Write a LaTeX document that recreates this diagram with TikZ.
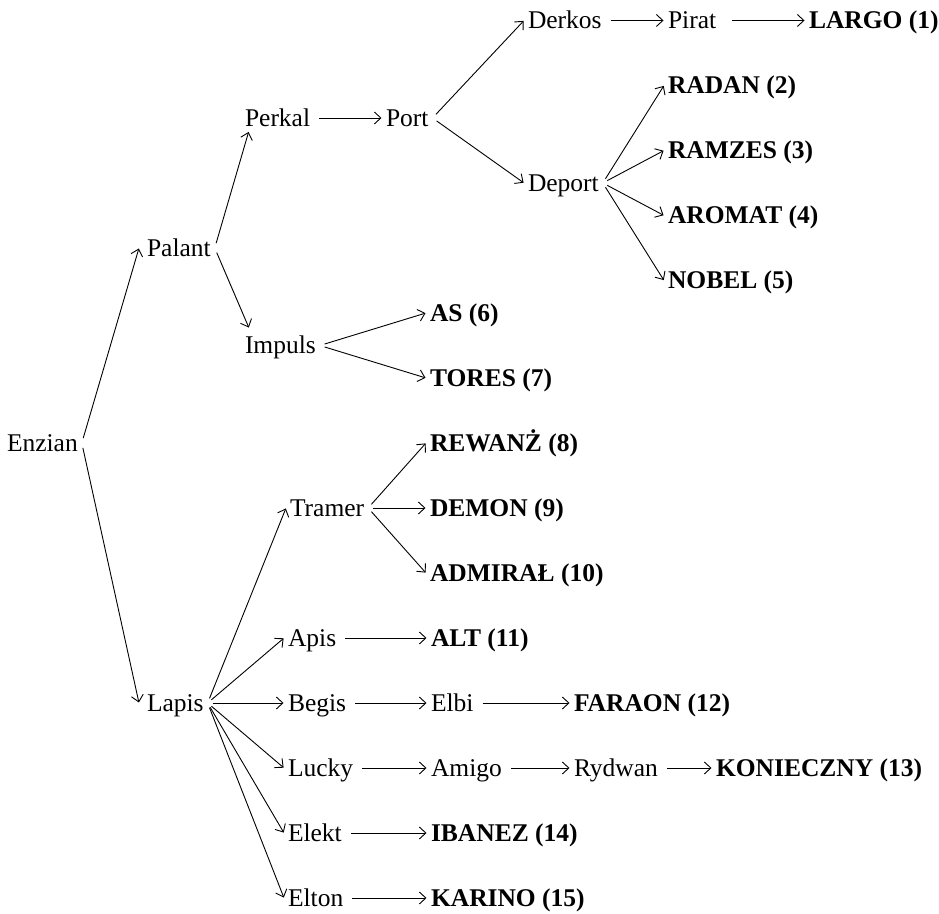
\documentclass[tikz,border=0pt]{standalone}
\usepackage{fontspec}
\setmainfont{Liberation Serif}
\usetikzlibrary{arrows.meta}
\tikzset{
  lbl/.style={anchor=west, inner xsep=4pt, inner ysep=0pt, outer sep=0pt,
    text height=17pt, text depth=0pt, font=\fontsize{25.5pt}{30pt}\selectfont},
  leaf/.style={lbl, font=\fontsize{25.5pt}{30pt}\selectfont\bfseries},
  ar/.style={-{Straight Barb[length=6.5pt,width=12pt,line width=0.9pt]}, line width=0.9pt, shorten <=5pt, shorten >=0.5pt}
}
\begin{document}
\begin{tikzpicture}[x=1pt,y=1pt]
\useasboundingbox (0,0) rectangle (939,913);
% column 0-1
\node[lbl] (enzian) at (3,470) {Enzian};
\node[lbl] (palant) at (143,665) {Palant};
\node[lbl] (lapis) at (143,210) {Lapis};
% column 2
\node[lbl] (perkal) at (241,795) {Perkal};
\node[lbl] (impuls) at (241,567.5) {Impuls};
\node[lbl] (port) at (382,795) {Port};
\node[lbl] (tramer) at (286,405) {Tramer};
\node[lbl] (apis) at (284,275) {Apis};
\node[lbl] (begis) at (284,210) {Begis};
\node[lbl] (lucky) at (284,145) {Lucky};
\node[lbl] (elekt) at (284,80) {Elekt};
\node[lbl] (elton) at (284,15) {Elton};
% column 3
\node[lbl] (derkos) at (524,892.5) {Derkos};
\node[lbl] (deport) at (524,730) {Deport};
\node[lbl] (pirat) at (664,892.5) {Pirat};
\node[leaf] (largo) at (805,892.5) {LARGO (1)};
\node[leaf] (radan) at (664,827.5) {RADAN (2)};
\node[leaf] (ramzes) at (664,762.5) {RAMZES (3)};
\node[leaf] (aromat) at (664,697.5) {AROMAT (4)};
\node[leaf] (nobel) at (664,632.5) {NOBEL (5)};
\node[leaf] (as) at (426,600) {AS (6)};
\node[leaf] (tores) at (426,535) {TORES (7)};
\node[leaf] (rewanz) at (426,470) {REWANŻ (8)};
\node[leaf] (demon) at (426,405) {DEMON (9)};
\node[leaf] (admiral) at (426,340) {ADMIRAŁ (10)};
\node[leaf] (alt) at (427,275) {ALT (11)};
\node[lbl] (elbi) at (427,210) {Elbi};
\node[leaf] (faraon) at (570,210) {FARAON (12)};
\node[lbl] (amigo) at (427,145) {Amigo};
\node[lbl] (rydwan) at (570,145) {Rydwan};
\node[leaf] (konieczny) at (712,145) {KONIECZNY (13)};
\node[leaf] (ibanez) at (427,80) {IBANEZ (14)};
\node[leaf] (karino) at (427,15) {KARINO (15)};
% connectors
\draw[ar] (enzian.east) -- ([xshift=-4pt]palant.west);
\draw[ar] (enzian.east) -- ([xshift=-4pt]lapis.west);
\draw[ar] (palant.east) -- ([shift={(7.75pt,-5pt)}]perkal.south west);
\draw[ar] (palant.east) -- ([shift={(8pt,9pt)}]impuls.north west);
\draw[ar] (perkal.east) -- (port.west);
\draw[ar] (port.east) -- (derkos.west);
\draw[ar] (port.east) -- (deport.west);
\draw[ar] (derkos.east) -- (pirat.west);
\draw[ar] ([xshift=7pt]pirat.east) -- (largo.west);
\draw[ar] (deport.east) -- (radan.west);
\draw[ar] (deport.east) -- (ramzes.west);
\draw[ar] (deport.east) -- (aromat.west);
\draw[ar] (deport.east) -- (nobel.west);
\draw[ar] (impuls.east) -- (as.west);
\draw[ar] (impuls.east) -- (tores.west);
\draw[ar] (lapis.east) -- (tramer.west);
\draw[ar] (tramer.east) -- (rewanz.west);
\draw[ar] (tramer.east) -- (demon.west);
\draw[ar] (tramer.east) -- (admiral.west);
\draw[ar] (lapis.east) -- (apis.west);
\draw[ar] (lapis.east) -- (begis.west);
\draw[ar] (lapis.east) -- (lucky.west);
\draw[ar] (lapis.east) -- (elekt.west);
\draw[ar] (lapis.east) -- (elton.west);
\draw[ar] (apis.east) -- (alt.west);
\draw[ar] (begis.east) -- (elbi.west);
\draw[ar] (elbi.east) -- (faraon.west);
\draw[ar] (lucky.east) -- (amigo.west);
\draw[ar] (amigo.east) -- (rydwan.west);
\draw[ar] (rydwan.east) -- (konieczny.west);
\draw[ar] (elekt.east) -- (ibanez.west);
\draw[ar] (elton.east) -- (karino.west);
\end{tikzpicture}
\end{document}
